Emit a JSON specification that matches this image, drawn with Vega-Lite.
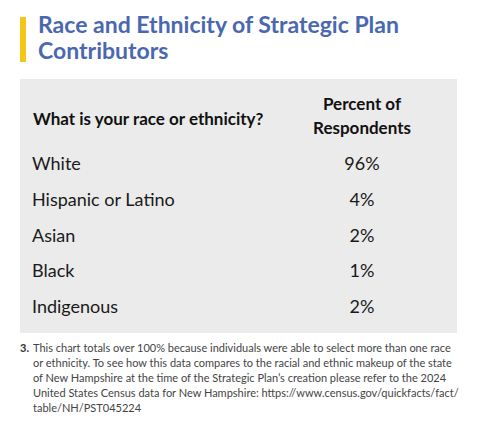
{
  "$schema": "https://vega.github.io/schema/vega-lite/v6.json",
  "width": 437,
  "height": 254,
  "autosize": {"type": "none"},
  "padding": {"left": 20, "top": 79, "right": 23, "bottom": 91},
  "background": "#ffffff",
  "config": {"view": {"stroke": null}, "font": "Lato"},
  "data": {"values": [
    {"race": "White", "percent": 0.96},
    {"race": "Hispanic or Latino", "percent": 0.04},
    {"race": "Asian", "percent": 0.02},
    {"race": "Black", "percent": 0.01},
    {"race": "Indigenous", "percent": 0.02}
  ]},
  "layer": [
    {
      "data": {"values": [{}]},
      "mark": {"type": "rect", "x": 0, "x2": "width", "y": 0, "y2": "height", "color": "#ebebeb"},
      "encoding": {}
    },
    {
      "mark": {"type": "text", "align": "left", "baseline": "middle", "fontSize": 18, "color": "#1a1a1a", "x": 12},
      "encoding": {
        "y": {"field": "race", "type": "nominal", "sort": null, "axis": null,
          "scale": {"type": "point", "range": [86, 229], "padding": 0}},
        "text": {"field": "race"}
      }
    },
    {
      "mark": {"type": "text", "align": "center", "baseline": "middle", "fontSize": 18, "color": "#1a1a1a", "x": 342},
      "encoding": {
        "y": {"field": "race", "type": "nominal", "sort": null, "axis": null},
        "text": {"field": "percent", "format": ".0%"}
      }
    },
    {
      "data": {"values": [{"q": "What is your race or ethnicity?"}]},
      "mark": {"type": "text", "align": "left", "baseline": "middle", "fontSize": 17, "fontWeight": "bold", "color": "#111111", "x": 13, "y": 41},
      "encoding": {"text": {"field": "q"}}
    },
    {
      "data": {"values": [{"q": ["Percent of", "Respondents"]}]},
      "mark": {"type": "text", "align": "center", "baseline": "middle", "fontSize": 17, "fontWeight": "bold", "color": "#111111", "x": 342, "y": 26, "lineHeight": 24},
      "encoding": {"text": {"field": "q"}}
    },
    {
      "data": {"values": [{}]},
      "mark": {"type": "rule", "x": 3, "x2": 430, "y": 63, "strokeWidth": 2, "color": "#555555"},
      "encoding": {}
    },
    {
      "data": {"values": [{}]},
      "mark": {"type": "rect", "x": 0, "x2": 6, "y": -62, "y2": -17, "color": "#f5c518"},
      "encoding": {}
    },
    {
      "data": {"values": [{"t": ["Race and Ethnicity of Strategic Plan", "Contributors"]}]},
      "mark": {"type": "text", "align": "left", "baseline": "alphabetic", "fontSize": 23, "fontWeight": "bold", "color": "#4a68b0", "x": 18, "y": -46, "lineHeight": 26},
      "encoding": {"text": {"field": "t"}}
    },
    {
      "data": {"values": [{"n": "3."}]},
      "mark": {"type": "text", "align": "left", "baseline": "top", "fontSize": 11, "fontWeight": "bold", "color": "#333333", "x": 0, "y": 264},
      "encoding": {"text": {"field": "n"}}
    },
    {
      "data": {"values": [{"n": ["This chart totals over 100% because individuals were able to select more than one race", "or ethnicity. To see how this data compares to the racial and ethnic makeup of the state", "of New Hampshire at the time of the Strategic Plan’s creation please refer to the 2024", "United States Census data for New Hampshire: https://www.census.gov/quickfacts/fact/", "table/NH/PST045224"]}]},
      "mark": {"type": "text", "align": "left", "baseline": "top", "fontSize": 11, "color": "#444444", "x": 13, "y": 264, "lineHeight": 15},
      "encoding": {"text": {"field": "n"}}
    }
  ]
}
